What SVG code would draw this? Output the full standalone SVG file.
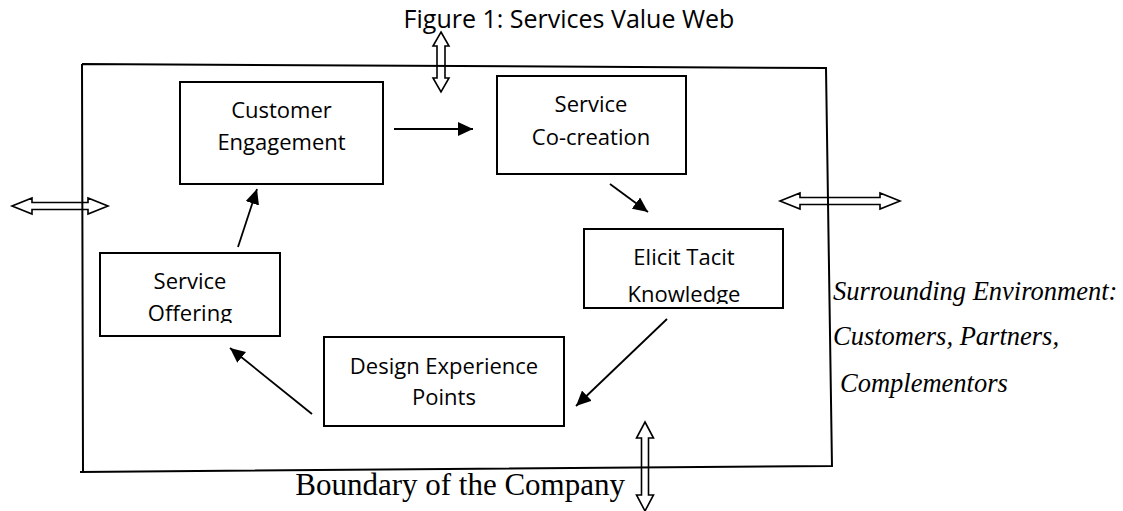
<svg xmlns="http://www.w3.org/2000/svg" width="1123" height="511" viewBox="0 0 1123 511">
<defs>
<style>
.box{fill:#fff;stroke:#000;stroke-width:2}
.lbl{font-family:"Open Sans","Liberation Sans",sans-serif;font-size:22px;fill:#000;text-anchor:middle}
.title{font-family:"Open Sans","Liberation Sans",sans-serif;font-size:25px;fill:#000;text-anchor:middle}
.env{font-family:"Liberation Serif",serif;font-style:italic;font-size:26.5px;fill:#000}
.bnd{font-family:"Liberation Serif",serif;font-size:31px;fill:#000}
.edge{stroke:#000;stroke-width:2;fill:none}
.conn{stroke:#000;stroke-width:1.8;fill:none;marker-end:url(#ah)}
.dbl{fill:#fff;stroke:#000;stroke-width:1.6}
</style>
<marker id="ah" markerUnits="userSpaceOnUse" markerWidth="16" markerHeight="14" refX="15" refY="7" orient="auto">
<path d="M0,0 L15,7 L0,14 z" fill="#000"/>
</marker>
<clipPath id="clipElicit"><rect x="584" y="229" width="199" height="75"/></clipPath>
<clipPath id="clipOffer"><rect x="100" y="253" width="180" height="70"/></clipPath>
</defs>
<rect width="1123" height="511" fill="#fff"/>

<g id="title"><text class="title" x="569" y="28">Figure 1: Services Value Web</text></g>

<g id="boundary-arrows">
<polygon class="dbl" points="12,206 32,198 32,202.5 88,202.5 88,198 108,206 88,214 88,209.5 32,209.5 32,214"/>
<polygon class="dbl" points="780,201 800,193 800,197.5 880,197.5 880,193 900,201 880,209 880,204.5 800,204.5 800,209"/>
<polygon class="dbl" points="441,32 449,46 445,46 445,78 449,78 441,92 433,78 437,78 437,46 433,46"/>
<polygon class="dbl" points="645,422 653.5,438 648.5,438 648.5,495 653.5,495 645,511 636.5,495 641.5,495 641.5,438 636.5,438"/>
</g>

<g id="company-boundary">
<path class="edge" d="M82,64 L826,68 L832,467 M80,472 L832,466 M82,64 L83,472"/>
</g>

<g id="customer-engagement">
<rect class="box" x="180" y="82" width="203" height="102"/>
<text class="lbl" x="281.5" y="118">Customer</text>
<text class="lbl" x="281.5" y="150">Engagement</text>
</g>

<g id="service-cocreation">
<rect class="box" x="497" y="76" width="189" height="98"/>
<text class="lbl" x="591" y="112">Service</text>
<text class="lbl" x="591" y="145">Co-creation</text>
</g>

<g id="elicit-tacit-knowledge">
<rect class="box" x="584" y="229" width="199" height="79"/>
<g clip-path="url(#clipElicit)">
<text class="lbl" x="684" y="265">Elicit Tacit</text>
<text class="lbl" x="684" y="302">Knowledge</text>
</g>
</g>

<g id="design-experience-points">
<rect class="box" x="324" y="337" width="240" height="89"/>
<text class="lbl" x="444" y="374">Design Experience</text>
<text class="lbl" x="444" y="405">Points</text>
</g>

<g id="service-offering">
<rect class="box" x="100" y="253" width="180" height="83"/>
<g clip-path="url(#clipOffer)">
<text class="lbl" x="190" y="289">Service</text>
<text class="lbl" x="190" y="321">Offering</text>
</g>
</g>

<g id="connectors">
<line class="conn" x1="394" y1="129" x2="473" y2="129"/>
<line class="conn" x1="610" y1="184" x2="648" y2="212"/>
<line class="conn" x1="667" y1="319" x2="576" y2="406"/>
<line class="conn" x1="312" y1="414" x2="230" y2="348"/>
<line class="conn" x1="238" y1="247" x2="257" y2="189"/>
</g>

<g id="environment-label">
<text class="env" x="833" y="300">Surrounding Environment:</text>
<text class="env" x="833" y="345">Customers, Partners,</text>
<text class="env" x="840" y="392">Complementors</text>
</g>

<g id="boundary-label">
<text class="bnd" x="625" y="495" text-anchor="end">Boundary of the Company</text>
</g>
</svg>
